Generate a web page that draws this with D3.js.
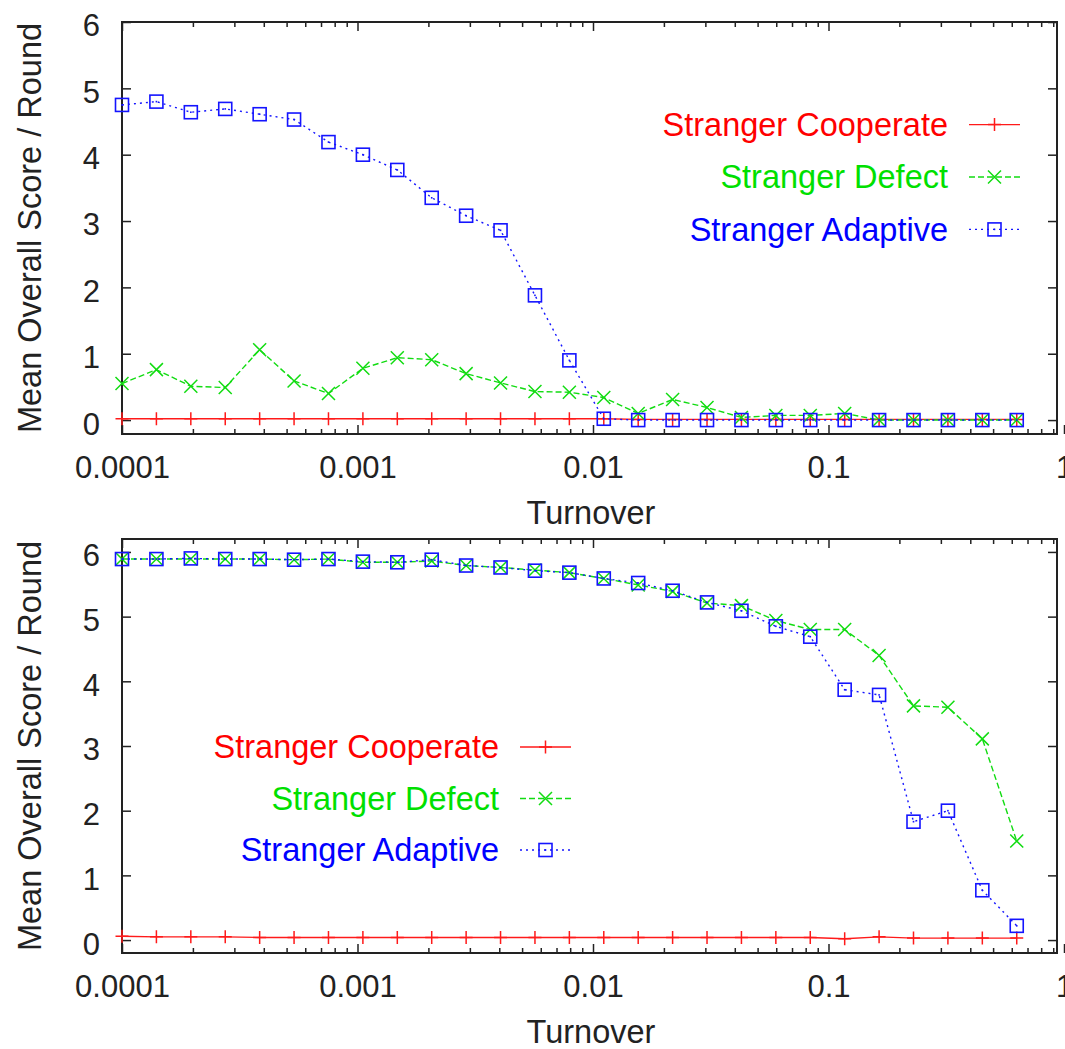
<!DOCTYPE html>
<html><head><meta charset="utf-8">
<script src="https://cdn.jsdelivr.net/npm/d3@7"></script>
<style>
body{margin:0;background:#fff;}
svg{display:block;}
text{font-family:"Liberation Sans",Arial,Helvetica,sans-serif;}
</style>
</head><body>
<svg id="chart" width="1065" height="1049"></svg>
<script>
// ---------- data ----------
const turnover = [0.0001, 0.00014, 0.000196, 0.0002744, 0.00038416, 0.000537824, 0.000752954,
  0.00105414, 0.00147579, 0.0020661, 0.00289255, 0.00404957, 0.00566939, 0.00793715,
  0.011112, 0.0155568, 0.0217795, 0.0304913, 0.0426879, 0.059763, 0.0836683,
  0.117136, 0.16399, 0.229586, 0.32142, 0.449988, 0.629983];

const seriesNames = ["Stranger Cooperate", "Stranger Defect", "Stranger Adaptive"];

const topCooperate = [0.02,0.02,0.02,0.02,0.02,0.02,0.02,0.02,0.02,0.02,0.02,0.02,0.02,0.02,
  0.02,0.01,0.01,0.01,0.01,0.01,0.01,0.01,0.01,0.01,0.01,0.01,0.01];
const topDefect = [0.55,0.76,0.51,0.49,1.06,0.59,0.40,0.78,0.94,0.91,0.70,0.56,0.43,0.42,
  0.34,0.10,0.31,0.19,0.04,0.07,0.07,0.10,0.00,0.00,0.00,0.00,0.00];
const topAdaptive = [4.75,4.80,4.64,4.69,4.61,4.53,4.19,4.00,3.77,3.35,3.08,2.86,1.88,0.90,
  0.02,0.00,0.00,0.00,0.00,0.00,0.00,0.00,0.00,0.00,0.00,0.00,0.00];

const bottomCooperate = [0.06,0.05,0.05,0.05,0.04,0.04,0.04,0.04,0.04,0.04,0.04,0.04,0.04,0.04,
  0.04,0.04,0.04,0.04,0.04,0.04,0.04,0.02,0.05,0.03,0.03,0.03,0.03];
const bottomDefect = [5.89,5.89,5.89,5.89,5.89,5.88,5.89,5.84,5.84,5.86,5.79,5.76,5.72,5.68,
  5.59,5.49,5.39,5.21,5.17,4.94,4.80,4.80,4.40,3.62,3.60,3.11,1.53];
const bottomAdaptive = [5.89,5.89,5.90,5.89,5.89,5.88,5.89,5.85,5.84,5.88,5.79,5.76,5.71,5.68,
  5.59,5.52,5.40,5.22,5.09,4.85,4.69,3.87,3.79,1.83,2.00,0.77,0.22];

const xMajorTicks = [0.0001, 0.001, 0.01, 0.1, 1];
const xTickLabels = ["0.0001", "0.001", "0.01", "0.1", "1"];
const yTicks = [0, 1, 2, 3, 4, 5, 6];
const yTickLabels = ["0", "1", "2", "3", "4", "5", "6"];
const xTitle = "Turnover";
const yTitle = "Mean Overall Score / Round";

// ---------- styling / layout ----------
const colors = ["#ff1a1a", "#12dc12", "#1414ff"];
const textColors = ["#ff0000", "#00e000", "#0000ff"];
const dashes = [null, "6,3", "2,4"];
const FONT = 31, BIG = 32.5;
const frameLeft = 122, frameRight = 1057, xEnd = 1064;

const panels = [
  {series: [topCooperate, topDefect, topAdaptive], top: 22, bottom: 434, yDomain: [-0.21, 6],
   legendRight: 948, legendY: 124.6, legendStep: 52.4},
  {series: [bottomCooperate, bottomDefect, bottomAdaptive], top: 539, bottom: 953, yDomain: [-0.2, 6.2],
   legendRight: 499, legendY: 747, legendStep: 51.5}
];

const svg = d3.select("#chart");
const x = d3.scaleLog().domain([1e-4, 1]).range([frameLeft, xEnd]);
const xMinorTicks = x.ticks().filter(v => Math.abs(Math.log10(v) - Math.round(Math.log10(v))) > 1e-6 && x(v) < frameRight);

function marker(g, type, cx, cy, color) {
  if (type === 0) {
    g.append("path").attr("d", `M${cx-6.5},${cy}H${cx+6.5}M${cx},${cy-6.5}V${cy+6.5}`)
      .attr("stroke", color).attr("stroke-width", 1.5).attr("fill", "none");
  } else if (type === 1) {
    g.append("path").attr("d", `M${cx-6.5},${cy-6.5}L${cx+6.5},${cy+6.5}M${cx-6.5},${cy+6.5}L${cx+6.5},${cy-6.5}`)
      .attr("stroke", color).attr("stroke-width", 1.5).attr("fill", "none");
  } else {
    g.append("rect").attr("x", cx-6.5).attr("y", cy-6.5).attr("width", 13).attr("height", 13)
      .attr("stroke", color).attr("stroke-width", 1.6).attr("fill", "none");
    g.append("rect").attr("x", cx-0.8).attr("y", cy-0.8).attr("width", 1.6).attr("height", 1.6).attr("fill", color);
  }
}

panels.forEach(p => {
  const y = d3.scaleLinear().domain(p.yDomain).range([p.bottom, p.top]);
  const g = svg.append("g");

  // axes (inward ticks)
  const fmt = (d) => xTickLabels[xMajorTicks.indexOf(d)];
  const bx = g.append("g").attr("transform", `translate(0,${p.bottom})`)
    .call(d3.axisBottom(x).tickValues(xMajorTicks).tickFormat(fmt).tickSizeInner(-9).tickSizeOuter(0).tickPadding(22));
  const bxm = g.append("g").attr("transform", `translate(0,${p.bottom})`)
    .call(d3.axisBottom(x).tickValues(xMinorTicks).tickFormat("").tickSizeInner(-5).tickSizeOuter(0));
  const tx = g.append("g").attr("transform", `translate(0,${p.top})`)
    .call(d3.axisTop(x).tickValues(xMajorTicks.filter(v => x(v) < frameRight)).tickFormat("").tickSizeInner(-9).tickSizeOuter(0));
  const txm = g.append("g").attr("transform", `translate(0,${p.top})`)
    .call(d3.axisTop(x).tickValues(xMinorTicks).tickFormat("").tickSizeInner(-5).tickSizeOuter(0));
  const ly = g.append("g").attr("transform", `translate(${frameLeft},0)`)
    .call(d3.axisLeft(y).tickValues(yTicks).tickFormat((d, i) => yTickLabels[i]).tickSizeInner(-9).tickSizeOuter(0).tickPadding(22));
  const ry = g.append("g").attr("transform", `translate(${frameRight},0)`)
    .call(d3.axisRight(y).tickValues(yTicks).tickFormat("").tickSizeInner(-9).tickSizeOuter(0));

  [bx, bxm, tx, txm, ly, ry].forEach(a => {
    a.select(".domain").remove();
    a.selectAll(".tick line").attr("stroke", "#222").attr("stroke-width", 1.5);
    a.selectAll("text").attr("font-size", FONT).attr("fill", "#222")
      .style("font-family", '"Liberation Sans", Arial, sans-serif');
  });
  ly.selectAll("text").attr("dy", "0.45em");

  // frame
  g.append("rect").attr("x", frameLeft).attr("y", p.top)
    .attr("width", frameRight - frameLeft).attr("height", p.bottom - p.top)
    .attr("fill", "none").attr("stroke", "#222").attr("stroke-width", 2);

  // titles
  g.append("text").attr("x", 591).attr("y", p.bottom + 90).attr("text-anchor", "middle")
    .attr("font-size", BIG).attr("fill", "#222").text(xTitle);
  g.append("text").attr("transform", `translate(41,${(p.top + p.bottom) / 2}) rotate(-90)`)
    .attr("text-anchor", "middle").attr("font-size", BIG).attr("fill", "#222").text(yTitle);

  // series
  const line = d3.line().x((d, i) => x(turnover[i])).y(d => y(d));
  p.series.forEach((vals, s) => {
    const sg = g.append("g");
    sg.append("path").datum(vals).attr("d", line).attr("fill", "none")
      .attr("stroke", colors[s]).attr("stroke-width", 1.4)
      .attr("stroke-dasharray", dashes[s]);
    vals.forEach((v, i) => marker(sg, s, x(turnover[i]), y(v), colors[s]));
  });

  // legend
  seriesNames.forEach((name, s) => {
    const ly0 = p.legendY + s * p.legendStep;
    g.append("text").attr("x", p.legendRight).attr("y", ly0).attr("dy", "0.35em")
      .attr("text-anchor", "end").attr("font-size", BIG).attr("fill", textColors[s]).text(name);
    const lg = g.append("g");
    lg.append("line").attr("x1", p.legendRight + 21).attr("x2", p.legendRight + 72)
      .attr("y1", ly0).attr("y2", ly0).attr("stroke", colors[s]).attr("stroke-width", 1.4)
      .attr("stroke-dasharray", dashes[s]);
    marker(lg, s, p.legendRight + 46.5, ly0, colors[s]);
  });
});
</script>
</body></html>
